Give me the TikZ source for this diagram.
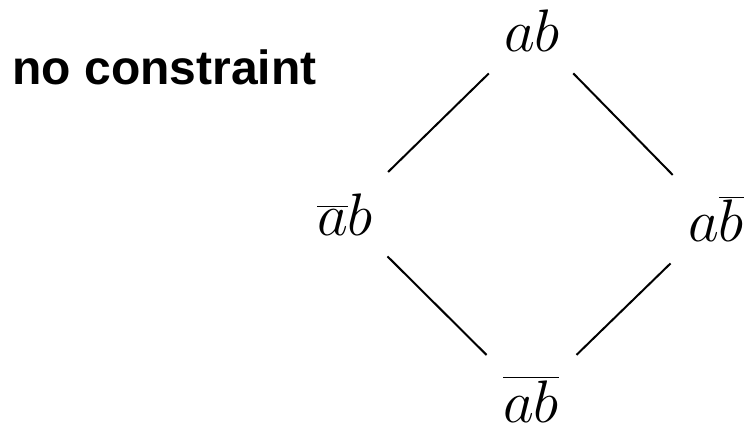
\RequirePackage{fix-cm}
\documentclass[tikz,border=0pt]{standalone}
\usepackage{fontspec}
\newfontfamily\labelfont{Liberation Sans}

\begin{document}
\begin{tikzpicture}[x=0.5pt, y=-0.5pt, term/.style={inner sep=10.5pt, anchor=base, font=\fontsize{30}{36}\selectfont}, edge/.style={line width=1pt}, title/.style={inner sep=0pt, anchor=base west, font=\labelfont\bfseries\fontsize{24}{29}\selectfont}]
\useasboundingbox (0,0) rectangle (744,427);
\node[title] (label) at (12,85) {no constraint};
\node[term] (ab) at (532,52) {$ab$};
\node[term] (nab) at (345,235) {$\overline{a}b$};
\node[term] (anb) at (716,242) {$a\overline{b}$};
\node[term] (nanb) at (531,422) {$\overline{ab}$};
\draw[edge] (ab)--(nab); \draw[edge] (ab)--(anb); \draw[edge] (nab)--(nanb); \draw[edge] (anb)--(nanb);
\end{tikzpicture}
\end{document}
